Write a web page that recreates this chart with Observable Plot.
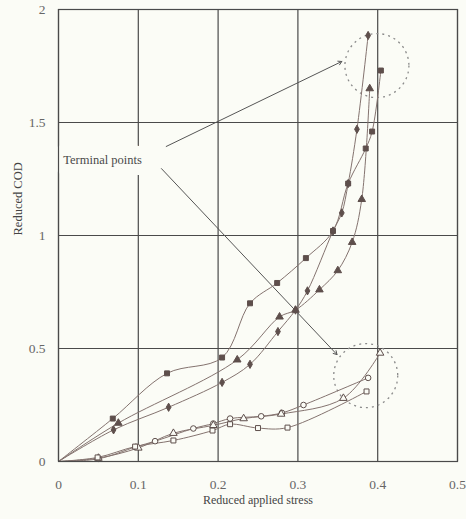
<!DOCTYPE html>
<html>
<head>
<meta charset="utf-8">
<script src="https://cdn.jsdelivr.net/npm/d3@7"></script>
<script src="https://cdn.jsdelivr.net/npm/@observablehq/plot@0.6"></script>
<style>
  html, body { margin: 0; padding: 0; background: #fbfcf6; }
</style>
</head>
<body>
<div id="chart"></div>
<script>
// Tick values
const xTicks = [0, 0.1, 0.2, 0.3, 0.4, 0.5];
const yTicks = [0, 0.5, 1, 1.5, 2];

// Axis titles
const xTitle = ["Reduced applied stress"];
const yTitle = ["Reduced COD"];

// Upper curves (filled markers)
const diamondX = [0, 0.069, 0.138, 0.205, 0.24, 0.275, 0.297, 0.312, 0.344, 0.355, 0.363, 0.374, 0.388];
const diamondY = [0, 0.14, 0.24, 0.35, 0.43, 0.575, 0.67, 0.755, 1.02, 1.10, 1.23, 1.47, 1.885];

const squareX = [0, 0.068, 0.136, 0.205, 0.24, 0.274, 0.31, 0.344, 0.363, 0.385, 0.393, 0.404];
const squareY = [0, 0.19, 0.39, 0.46, 0.70, 0.79, 0.90, 1.02, 1.23, 1.385, 1.46, 1.73];

const triX = [0, 0.075, 0.224, 0.277, 0.297, 0.327, 0.35, 0.368, 0.38, 0.39];
const triY = [0, 0.17, 0.45, 0.64, 0.67, 0.76, 0.845, 0.97, 1.16, 1.65];

// Lower curves (hollow markers)
const circX = [0, 0.05, 0.097, 0.121, 0.169, 0.194, 0.215, 0.254, 0.28, 0.307, 0.388];
const circY = [0, 0.012, 0.065, 0.09, 0.146, 0.168, 0.19, 0.20, 0.215, 0.25, 0.37];

const otriX = [0, 0.05, 0.1, 0.144, 0.194, 0.232, 0.279, 0.357, 0.403];
const otriY = [0, 0.015, 0.06, 0.125, 0.16, 0.19, 0.21, 0.28, 0.48];

const osqX = [0, 0.049, 0.096, 0.144, 0.193, 0.215, 0.25, 0.287, 0.386];
const osqY = [0, 0.018, 0.066, 0.093, 0.137, 0.165, 0.148, 0.15, 0.31];

// Annotation
const noteText = ["Terminal points"];
const noteX = [0.006];
const noteY = [1.336];
const arrowFromX = [0.135, 0.129];
const arrowFromY = [1.394, 1.296];
const arrowToX = [0.355, 0.349];
const arrowToY = [1.77, 0.473];
const ringX = [0.399, 0.385];
const ringY = [1.752, 0.38];

const zip = (xs, ys) => xs.map((x, i) => ({x, y: ys[i]}));
const series = [
  {data: zip(diamondX, diamondY), symbol: "diamond", filled: true, r: 2.5},
  {data: zip(squareX, squareY), symbol: "square", filled: true, r: 2.8},
  {data: zip(triX, triY), symbol: "triangle", filled: true, r: 2.8},
  {data: zip(circX, circY), symbol: "circle", filled: false, r: 2.8},
  {data: zip(otriX, otriY), symbol: "triangle", filled: false, r: 2.8},
  {data: zip(osqX, osqY), symbol: "square", filled: false, r: 2.8}
];

const lineColor = "#84736f";
const markColor = "#5e4f4c";
const bg = "#fbfcf6";

const marks = [
  Plot.ruleX(xTicks, {stroke: "#4a4a4a", strokeWidth: 1.2, strokeOpacity: 1}),
  Plot.ruleY(yTicks, {stroke: "#4a4a4a", strokeWidth: 1.2, strokeOpacity: 1}),
  Plot.text(noteText, {x: noteX, y: noteY, text: d => d, textAnchor: "start", fontSize: 12.5,
    fill: bg, stroke: bg, strokeWidth: 22, fontFamily: "Liberation Serif"}),
  Plot.text(noteText, {x: noteX, y: noteY, text: d => d, textAnchor: "start", fontSize: 12.5,
    fill: "#4a4a4a", fontFamily: "Liberation Serif"}),
  Plot.arrow(arrowFromX.map((v, i) => i), {
    x1: i => arrowFromX[i], y1: i => arrowFromY[i], x2: i => arrowToX[i], y2: i => arrowToY[i],
    stroke: "#555", strokeWidth: 1, headLength: 6, bend: 0
  }),
  Plot.dot(ringX.map((v, i) => i), {x: i => ringX[i], y: i => ringY[i], r: 32,
    stroke: "#8a8a8a", strokeWidth: 1.3, strokeDasharray: "2,4", fill: "none"}),
  Plot.text(xTitle, {frameAnchor: "bottom", dy: 42, text: d => d, fontSize: 12,
    fill: "#444", fontFamily: "Liberation Serif"}),
  Plot.text(yTitle, {frameAnchor: "left", dx: -41, rotate: -90, text: d => d, fontSize: 12.5,
    fill: "#444", fontFamily: "Liberation Serif"})
];

for (const s of series) {
  marks.push(Plot.line(s.data, {x: "x", y: "y", stroke: lineColor, strokeWidth: 1, curve: "catmull-rom"}));
}
for (const s of series) {
  const pts = s.data.slice(1);
  marks.push(Plot.dot(pts, {x: "x", y: "y", symbol: s.symbol, r: s.r,
    fill: s.filled ? markColor : bg, stroke: markColor, strokeWidth: 1}));
}
marks.push(Plot.frame({stroke: "#4a4a4a", strokeWidth: 1.2}));

const chart = Plot.plot({
  width: 466,
  height: 519,
  marginLeft: 58,
  marginRight: 9,
  marginTop: 9,
  marginBottom: 58,
  style: {fontFamily: "Liberation Serif", fontSize: "13.5px", background: bg, color: "#666"},
  x: {domain: [0, 0.5], ticks: xTicks, tickSize: 0, tickPadding: 18, tickFormat: d => String(d), label: null},
  y: {domain: [0, 2], ticks: yTicks, tickSize: 0, tickPadding: 13, tickFormat: d => String(d), label: null},
  marks
});
document.getElementById("chart").appendChild(chart);
</script>
</body>
</html>
